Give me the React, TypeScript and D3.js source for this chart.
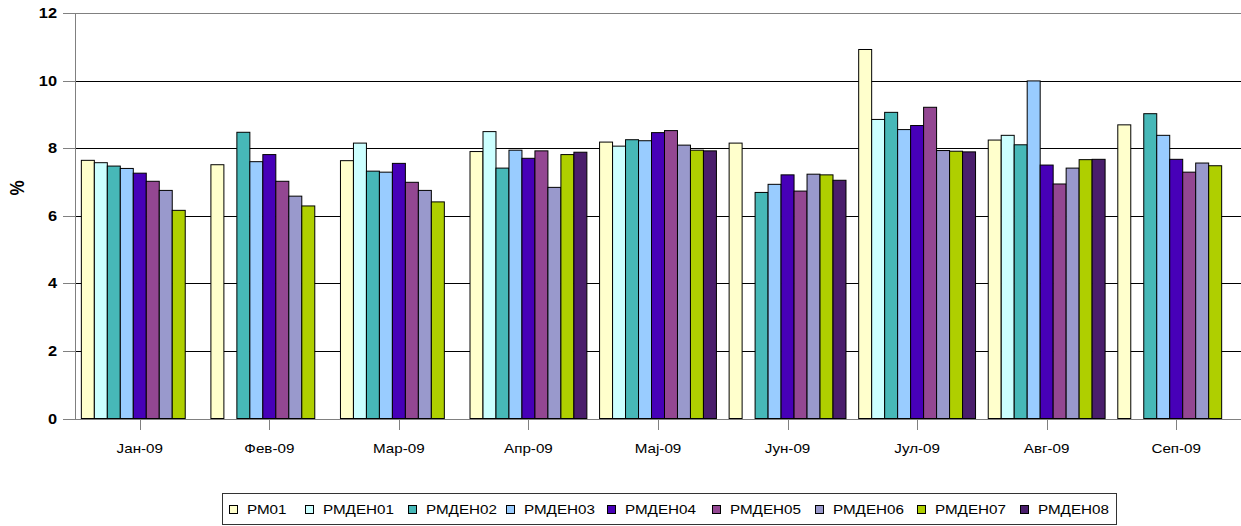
import React from "react";
import * as d3 from "d3";

const categories = ["Јан-09", "Фев-09", "Мар-09", "Апр-09", "Мај-09", "Јун-09", "Јул-09", "Авг-09", "Сеп-09"];
const seriesNames = ["РМ01", "РМДЕН01", "РМДЕН02", "РМДЕН03", "РМДЕН04", "РМДЕН05", "РМДЕН06", "РМДЕН07", "РМДЕН08"];
const seriesColors = ["#FFFFCC", "#CCFFFF", "#47B8B8", "#99CCFF", "#4700B8", "#934792", "#9999CC", "#AFCF00", "#4A1E6C"];

const rm01 = [7.64, 7.51, 7.63, 7.9, 8.18, 8.15, 10.92, 8.24, 8.69];
const rmden01 = [7.57, null, 8.15, 8.49, 8.06, null, 8.85, 8.38, null];
const rmden02 = [7.47, 8.47, 7.32, 7.41, 8.25, 6.69, 9.06, 8.1, 9.02];
const rmden03 = [7.4, 7.6, 7.29, 7.94, 8.22, 6.93, 8.55, 9.99, 8.38];
const rmden04 = [7.26, 7.81, 7.55, 7.7, 8.46, 7.21, 8.67, 7.5, 7.67];
const rmden05 = [7.02, 7.02, 6.99, 7.92, 8.52, 6.73, 9.21, 6.94, 7.29];
const rmden06 = [6.75, 6.58, 6.75, 6.84, 8.09, 7.23, 7.93, 7.41, 7.56];
const rmden07 = [6.16, 6.29, 6.41, 7.81, 7.94, 7.21, 7.91, 7.66, 7.48];
const rmden08 = [null, null, null, 7.88, 7.92, 7.05, 7.89, 7.67, null];

const seriesValues: (number | null)[][] = [rm01, rmden01, rmden02, rmden03, rmden04, rmden05, rmden06, rmden07, rmden08];
const yTicks = [0, 2, 4, 6, 8, 10, 12];

const W = 1241;
const H = 526;
const plotLeft = 75;
const plotRight = 1241;
const plotTop = 13;
const plotBottom = 418.5;
const SX = 1.17;
const FONT = "'Liberation Sans', Arial, sans-serif";

function SText(props: { x: number; y: number; anchor?: string; size: number; bold?: boolean; children: React.ReactNode }) {
  const { x, y, anchor = "start", size, bold, children } = props;
  return (
    <text
      transform={`translate(${x},${y}) scale(${SX},1)`}
      textAnchor={anchor}
      fontFamily={FONT}
      fontSize={size}
      fontWeight={bold ? "bold" : "normal"}
      fill="#000"
    >
      {children}
    </text>
  );
}

export default function App() {
  const x0 = d3.scaleBand<string>().domain(categories).range([plotLeft, plotRight]).padding(0);
  const step = x0.step();
  const gap = step * 0.049;
  const x1 = d3.scaleBand<string>().domain(seriesNames).range([gap, step - gap]).padding(0);
  const y = d3.scaleLinear().domain([0, 12]).range([plotBottom, plotTop]);

  const legendStarts = [229, 305, 408, 506, 607, 712, 815, 917, 1020];

  return (
    <div style={{ position: "fixed", left: 0, top: 0 }}>
      <svg width={W} height={H} style={{ display: "block", background: "#fff" }}>
        {/* gridlines */}
        {yTicks.map((t) => (
          <line
            key={"g" + t}
            x1={plotLeft}
            x2={plotRight}
            y1={Math.round(y(t)) + 0.5}
            y2={Math.round(y(t)) + 0.5}
            stroke={t === 12 ? "#808080" : t === 0 ? "#808080" : "#000"}
            strokeWidth={1}
            shapeRendering="crispEdges"
          />
        ))}
        {/* bars */}
        {categories.map((c, ci) => (
          <g key={c} transform={`translate(${x0(c)},0)`}>
            {seriesNames.map((s, si) => {
              const v = seriesValues[si][ci];
              if (v == null) return null;
              return (
                <rect
                  key={s}
                  x={x1(s)!}
                  y={y(v)}
                  width={x1.bandwidth()}
                  height={y(0) - y(v)}
                  fill={seriesColors[si]}
                  stroke="#000"
                  strokeWidth={1}
                />
              );
            })}
          </g>
        ))}
        {/* y axis */}
        <line x1={plotLeft + 0.5} x2={plotLeft + 0.5} y1={plotTop} y2={plotBottom} stroke="#808080" strokeWidth={1} shapeRendering="crispEdges" />
        {yTicks.map((t) => (
          <g key={"t" + t}>
            <line x1={63} x2={plotLeft} y1={Math.round(y(t)) + 0.5} y2={Math.round(y(t)) + 0.5} stroke="#808080" shapeRendering="crispEdges" />
            <SText x={57} y={y(t) + 5} anchor="end" size={14} bold>
              {t}
            </SText>
          </g>
        ))}
        {/* x axis */}
        <line x1={plotLeft} x2={plotRight} y1={Math.round(plotBottom) + 0.5} y2={Math.round(plotBottom) + 0.5} stroke="#808080" shapeRendering="crispEdges" />
        {categories.map((c) => {
          const cx = x0(c)! + step / 2;
          return (
            <g key={"x" + c}>
              <line x1={Math.round(cx) + 0.5} x2={Math.round(cx) + 0.5} y1={plotBottom} y2={430} stroke="#808080" shapeRendering="crispEdges" />
              <SText x={cx} y={453} anchor="middle" size={13}>
                {c}
              </SText>
            </g>
          );
        })}
        {/* y label */}
        <text
          transform={`translate(24,188) rotate(-90) scale(1,1.17)`}
          textAnchor="middle"
          fontFamily={FONT}
          fontSize={17}
          fontWeight="bold"
        >
          %
        </text>
        {/* legend */}
        <rect x={222.5} y={493.5} width={894} height={31} fill="#fff" stroke="#333" strokeWidth={1} shapeRendering="crispEdges" />
        {seriesNames.map((s, i) => (
          <g key={"l" + s}>
            <rect x={legendStarts[i] + 0.5} y={505.5} width={8} height={8} fill={seriesColors[i]} stroke="#000" strokeWidth={1} shapeRendering="crispEdges" />
            <SText x={legendStarts[i] + 18} y={514} size={13}>
              {s}
            </SText>
          </g>
        ))}
      </svg>
    </div>
  );
}
